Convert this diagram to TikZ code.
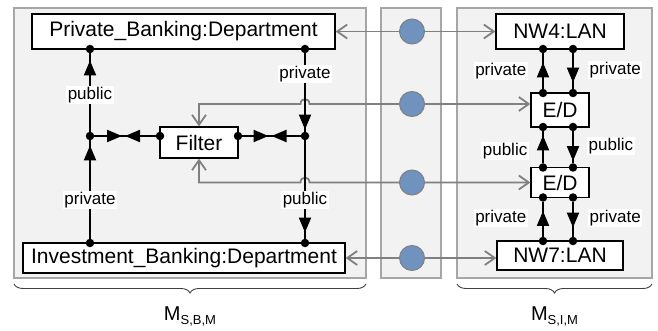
\documentclass[tikz,border=0pt]{standalone}
\usepackage{fontspec}
\setmainfont{Liberation Sans}
\usetikzlibrary{arrows.meta,decorations.pathreplacing,calc}
\definecolor{panelfill}{HTML}{F2F2F2}
\definecolor{paneldraw}{HTML}{A6A6A6}
\definecolor{grayline}{HTML}{808080}
\definecolor{bluedot}{HTML}{7092BE}
\definecolor{bracecol}{HTML}{404040}
\begin{document}
\begin{tikzpicture}[x=1pt,y=-1pt,
 panel/.style={draw=paneldraw,fill=panelfill,line width=1.3pt},
 box/.style={draw=black,fill=white,line width=1.3pt,inner sep=0pt,font=\fontsize{21}{24}\selectfont},
 lbl/.style={fill=white,inner sep=1.5pt,font=\fontsize{17}{19}\selectfont},
 conn/.style={line width=2pt},
 arr/.style={line width=2pt,-{Triangle[length=15pt,width=12pt]},shorten >=#1},
 dot/.style={circle,fill=black,inner sep=0pt,minimum size=8.5pt},
 gline/.style={draw=grayline,line width=1.8pt,{Straight Barb[length=10pt,width=14pt]}-{Straight Barb[length=10pt,width=14pt]}},
 ball/.style={circle,draw=grayline,fill=bluedot,line width=1pt,minimum size=25pt,inner sep=0pt},
 brc/.style={draw=bracecol,line width=0.9pt,decorate,decoration={brace,mirror,amplitude=9pt}},
 mlab/.style={font=\fontsize{20}{22}\selectfont}]
\useasboundingbox (0,0) rectangle (658,331);
% panels
\path[panel] (14,8) rectangle (366,278);
\path[panel] (381,8) rectangle (441,278);
\path[panel] (457,8) rectangle (652,278);
% boxes
\node[box,minimum width=303pt,minimum height=35pt] (pb) at (183.5,31.5) {Private\_Banking:Department};
\node[box,minimum width=322pt,minimum height=30pt] (ib) at (184,258) {Investment\_Banking:Department};
\node[box,minimum width=78pt,minimum height=31pt] (filter) at (199,142.5) {Filter};
\node[box,minimum width=128pt,minimum height=35pt] (nw4) at (560,31.5) {NW4:LAN};
\node[box,minimum width=58pt,minimum height=34pt] (ed1) at (560,110) {E/D};
\node[box,minimum width=58pt,minimum height=30pt] (ed2) at (560,182.5) {E/D};
\node[box,minimum width=126pt,minimum height=29pt] (nw7) at (560,255.5) {NW7:LAN};
% gray connectors
\coordinate (g2) at ([yshift=6pt]ed1.west);
\draw[gline] (pb.east) -- (nw4.west);
\draw[gline] (ib.east) -- (ib.east -| nw7.west);
% dots left
\node[dot] (pbL) at (90,49) {};
\node[dot] (pbR) at (305,49) {};
\node[dot] (ibL) at (90,243) {};
\node[dot] (ibR) at (305,243) {};
\node[dot] (jL) at (90,136) {};
\node[dot] (jR) at (305,136) {};
\node[dot] (fL) at (160,136) {};
\node[dot] (fR) at (238,136) {};
\draw[gline] (filter.north) -- (filter.north |- g2) -- ($(jR |- g2)+(-4.5,0)$) .. controls ($(jR |- g2)+(-4.5,-6.5)$) and ($(jR |- g2)+(4.5,-6.5)$) .. ($(jR |- g2)+(4.5,0)$) -- (g2);
\draw[gline] (filter.south) -- (filter.south |- ed2.west) -- ($(jR |- ed2.west)+(-4.5,0)$) .. controls ($(jR |- ed2.west)+(-4.5,-6.5)$) and ($(jR |- ed2.west)+(4.5,-6.5)$) .. ($(jR |- ed2.west)+(4.5,0)$) -- (ed2.west);
% dots right
\node[dot] (n4a) at (543,49) {};
\node[dot] (n4b) at (573,49) {};
\node[dot] (e1ta) at (543,93) {};
\node[dot] (e1tb) at (573,93) {};
\node[dot] (e1ba) at (543,127) {};
\node[dot] (e1bb) at (573,127) {};
\node[dot] (e2ta) at (543,167.5) {};
\node[dot] (e2tb) at (573,167.5) {};
\node[dot] (e2ba) at (543,197.5) {};
\node[dot] (e2bb) at (573,197.5) {};
\node[dot] (n7a) at (543,241) {};
\node[dot] (n7b) at (573,241) {};
% black connectors left
\draw[conn] (jL) -- (pbL); \draw[arr=7pt] (jL) -- (pbL);
\draw[conn] (ibL) -- (jL); \draw[arr=5pt] (ibL) -- (jL);
\draw[conn] (pbR) -- (jR); \draw[arr=2pt] (pbR) -- (jR);
\draw[conn] (jR) -- (ibR); \draw[arr=6pt] (jR) -- (ibR);
\coordinate (mL) at ($(jL)!0.5!(fL)$);
\coordinate (mR) at ($(fR)!0.5!(jR)$);
\draw[conn] (jL) -- (fL);
\draw[arr=3pt] (jL) -- (mL); \draw[arr=0pt] (fL) -- (mL);
\draw[conn] (fR) -- (jR);
\draw[arr=3pt] (fR) -- (mR); \draw[arr=0pt] (jR) -- (mR);
% black connectors right
\draw[conn] (e1ta) -- (n4a); \draw[arr=9pt] (e1ta) -- (n4a);
\draw[conn] (n4b) -- (e1tb); \draw[arr=6pt] (n4b) -- (e1tb);
\draw[conn] (e2ta) -- (e1ba); \draw[arr=4pt] (e2ta) -- (e1ba);
\draw[conn] (e1bb) -- (e2tb); \draw[arr=2pt] (e1bb) -- (e2tb);
\draw[conn] (n7a) -- (e2ba); \draw[arr=9pt] (n7a) -- (e2ba);
\draw[conn] (e2bb) -- (n7b); \draw[arr=9pt] (e2bb) -- (n7b);
% labels
\node[lbl] (l1) at (90,95) {public};
\node[lbl] (l2) at (305,74) {private};
\node[lbl] (l3) at (90,200) {private};
\node[lbl] (l4) at (305,200) {public};
\node[lbl,anchor=east] (l5) at (528,71) {private};
\node[lbl,anchor=west] (l6) at (588,70) {private};
\node[lbl,anchor=east] (l7) at (529,151) {public};
\node[lbl,anchor=west] (l8) at (587,146) {public};
\node[lbl,anchor=east] (l9) at (528,218) {private};
\node[lbl,anchor=west] (l10) at (588,218) {private};
% circles
\node[ball] (c1) at (412,31.5) {};
\node[ball] (c2) at (412,104) {};
\node[ball] (c3) at (412,182.5) {};
\node[ball] (c4) at (412,258) {};
% braces
\draw[brc] (14,284) -- (366,284);
\draw[brc] (457,284) -- (652,284);
\node[mlab] (m1) at (190,316) {M\raisebox{-4pt}{\fontsize{13}{14}\selectfont S,B,M}};
\node[mlab] (m2) at (554.5,316) {M\raisebox{-4pt}{\fontsize{13}{14}\selectfont S,I,M}};
\end{tikzpicture}
\end{document}
